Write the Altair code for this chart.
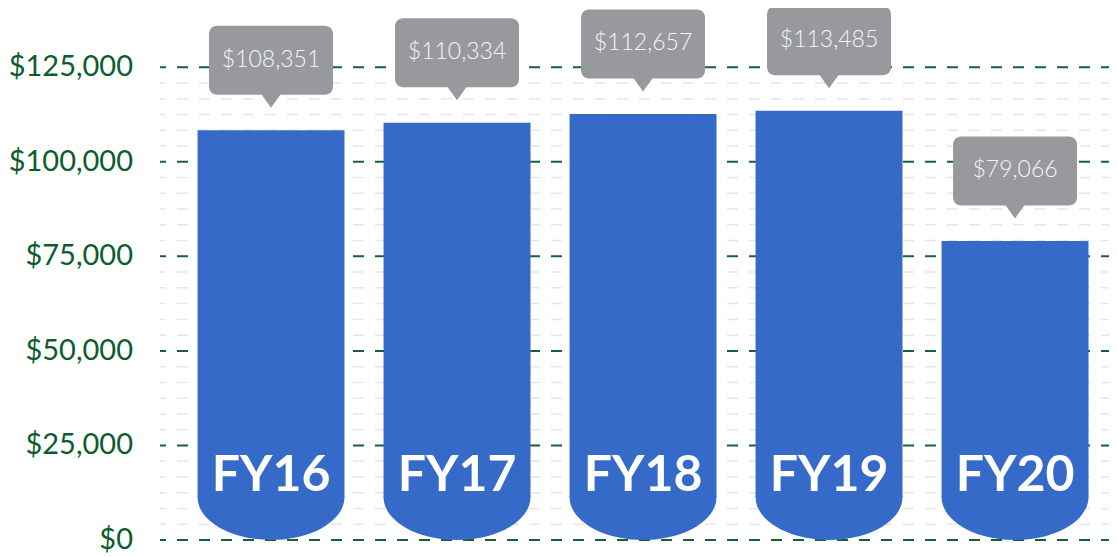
import altair as alt
import pandas as pd

years = ["FY16", "FY17", "FY18", "FY19", "FY20"]
values = [108351, 110334, 112657, 113485, 79066]
major_ticks = [0, 25000, 50000, 75000, 100000, 125000]
minor_ticks = [25000 / 6 * i for i in range(1, 30) if i % 6 != 0]

BLUE = "#356ac9"
GRAY = "#97999d"
GREEN = "#0d5c2e"
GRID_GREEN = "#17603a"
MINOR = "#e6e6e6"

df = pd.DataFrame({"year": years, "value": values})
minor_df = pd.DataFrame({"v": minor_ticks})
major_df = pd.DataFrame({"v": major_ticks})

yscale = alt.Scale(domain=[0, 140000], nice=False, zero=True)
x = alt.X("year:N", sort=years,
          scale=alt.Scale(paddingInner=0.21, paddingOuter=0.156, align=0.647),
          axis=None)

W = 949
H = 529.5

minor = alt.Chart(minor_df).mark_rule(color=MINOR, strokeWidth=1.5, strokeDash=[11, 11],
                                      strokeDashOffset=5).encode(
    y=alt.Y("v:Q", scale=yscale, axis=None),
    x=alt.value(0), x2=alt.value(W),
)

major = alt.Chart(major_df).mark_rule(color=GRID_GREEN, strokeWidth=2, strokeDash=[11, 11],
                                      strokeDashOffset=5).encode(
    y=alt.Y("v:Q", scale=yscale, axis=None),
    x=alt.value(0), x2=alt.value(W),
)

major_labels = alt.Chart(major_df).mark_text(font="Lato", fontSize=29, color=GREEN,
                                             align="right", baseline="middle").encode(
    y=alt.Y("v:Q", scale=yscale, axis=None),
    x=alt.value(-27),
    text=alt.Text("v:Q", format="$,.0f"),
)

bars = alt.Chart(df).mark_bar(color=BLUE, y2Offset=-43).encode(
    x=x,
    y=alt.Y("value:Q", scale=yscale, axis=None),
    y2=alt.YDatum(0),
)

bottom_path = ("M-1,-0.6 L-1,-0.586 C-1,-0.2624 -0.5523,0 0,0 "
               "C0.5523,0 1,-0.2624 1,-0.586 L1,-0.6 Z")
bottoms = alt.Chart(df).mark_point(shape=bottom_path, size=146.9 ** 2, filled=True,
                                   color=BLUE, opacity=1, strokeWidth=0).encode(
    x=x,
    y=alt.YDatum(0, scale=yscale, axis=None),
)

fy = alt.Chart(df).mark_text(font="Lato", fontWeight="bold", fontSize=50, color="white",
                             baseline="alphabetic", dy=-49.5).encode(
    x=x,
    y=alt.YDatum(0, scale=yscale, axis=None),
    text="year:N",
)

boxes = alt.Chart(df).mark_bar(color=GRAY, width=124, cornerRadius=8,
                               yOffset=-104.5, y2Offset=-35.5).encode(
    x=x,
    y=alt.Y("value:Q", scale=yscale, axis=None),
    y2="value:Q",
)

tips = alt.Chart(df).mark_point(shape="M-1,-0.1 L1,-0.1 L0,1.3 Z", size=400, filled=True,
                                color=GRAY, opacity=1, strokeWidth=0, yOffset=-35.5).encode(
    x=x,
    y=alt.Y("value:Q", scale=yscale, axis=None),
)

tip_text = alt.Chart(df).mark_text(font="Lato", fontWeight=300, fontSize=23, color="#f6f6f6",
                                   baseline="alphabetic", dy=-63.5).encode(
    x=x,
    y=alt.Y("value:Q", scale=yscale, axis=None),
    text=alt.Text("value:Q", format="$,.0f"),
)

chart = alt.layer(minor, major, major_labels, bars, bottoms, fy, boxes, tips, tip_text).properties(
    width=W, height=H, autosize="none",
    padding={"left": 152, "top": 2.5, "right": 0, "bottom": 16},
).configure_view(stroke=None)

chart.save("out.html", embed_options={"renderer": "svg", "actions": False})
